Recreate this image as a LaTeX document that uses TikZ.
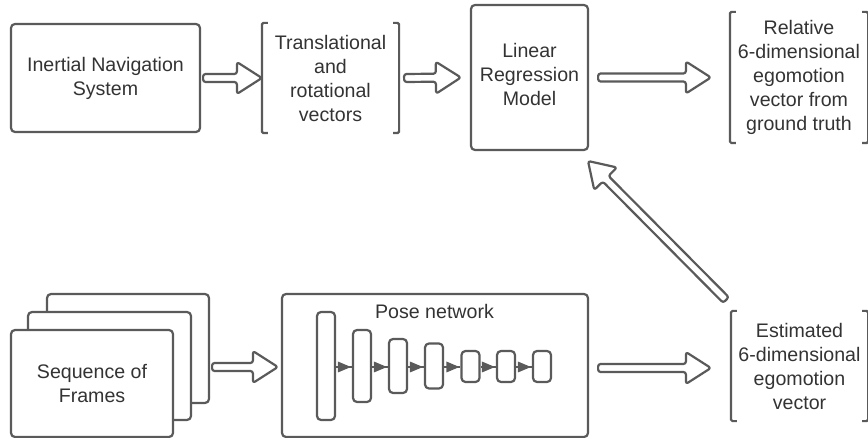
\documentclass[tikz,border=0pt]{standalone}
\usepackage{fontspec}
\setmainfont{Liberation Sans}
\usetikzlibrary{calc,arrows.meta}
\definecolor{strk}{HTML}{5A5A5A}
\definecolor{txt}{HTML}{333333}
\tikzset{
  base/.style={draw=strk, line width=2.2pt, text=txt, align=center, inner sep=0pt,
    font=\fontsize{19.6}{24}\selectfont},
  boxnode/.style={base, rounded corners=4pt},
  brnode/.style={base, draw=none},
  brline/.style={draw=strk, line width=2.2pt, rounded corners=1.5pt},
  layer/.style={draw=strk, line width=2.2pt, rounded corners=4pt, fill=white, minimum width=18pt},
  larrow/.style={draw=strk, line width=2pt},
  ltip/.style={fill=strk, draw=none},
  barrow/.style={draw=strk, line width=2.2pt, fill=white, rounded corners=2.5pt, line join=round},
}
\newcommand\blockarrow[2]{%
  \draw[barrow] let \p1=(#1), \p2=(#2), \n1={atan2(\y2-\y1,\x2-\x1)},
    \n2={veclen(\x2-\x1,\y2-\y1)-25} in
    ($(\p1)+({\n1+90}:4)$) -- ($(\p1)+({\n1+90}:4)+(\n1:\n2)$) --
    ($(\p1)+({\n1+90}:16)+(\n1:\n2)$) -- (\p2) --
    ($(\p1)+({\n1-90}:16)+(\n1:\n2)$) -- ($(\p1)+({\n1-90}:4)+(\n1:\n2)$) --
    ($(\p1)+({\n1-90}:4)$) -- cycle;}
\newcommand\brackets[1]{%
  \draw[brline] ([xshift=6pt]#1.north west) -- (#1.north west) -- (#1.south west) -- ([xshift=6pt]#1.south west);
  \draw[brline] ([xshift=-6pt]#1.north east) -- (#1.north east) -- (#1.south east) -- ([xshift=-6pt]#1.south east);}
\begin{document}
\begin{tikzpicture}[x=1pt,y=1pt]
\useasboundingbox (0,0) rectangle (868,-438);
% top row
\node[boxnode, minimum width=189pt, minimum height=108pt] (ins) at (105.5,-78) {Inertial Navigation\\System};
\node[brnode, minimum width=135pt, minimum height=108pt] (tv) at (330.5,-78) {Translational\\and\\rotational\\vectors};
\brackets{tv}
\node[boxnode, minimum width=117pt, minimum height=145pt] (lrm) at (529.5,-77.5) {};
\node[text=txt, align=center, font=\fontsize{19.6}{24}\selectfont] (lrmtext) at (529.5,-74) {Linear\\Regression\\Model};
\node[brnode, minimum width=136pt, minimum height=129pt] (rel) at (799,-77.5) {Relative\\6-dimensional\\egomotion\\vector from\\ground truth};
\brackets{rel}
% bottom row
\node[boxnode, fill=white, minimum width=162pt, minimum height=109pt] (fr3) at (128,-348.5) {};
\node[boxnode, fill=white, minimum width=163pt, minimum height=108pt] (fr2) at (109.5,-366) {};
\node[boxnode, fill=white, minimum width=162pt, minimum height=107pt] (fr1) at (92,-383.5) {Sequence of\\Frames};
\node[boxnode, minimum width=306pt, minimum height=143pt] (pose) at (435,-365.5) {};
\node[text=txt, font=\fontsize{19.6}{24}\selectfont, anchor=base] (posetitle) at (434.5,-318.5) {Pose network};
\node[layer, minimum height=108pt] (l1) at (326,-366) {};
\node[layer, minimum height=72pt] (l2) at (362,-366) {};
\node[layer, minimum height=54pt] (l3) at (398,-366) {};
\node[layer, minimum height=45pt] (l4) at (434,-366) {};
\node[layer, minimum height=31pt] (l5) at (470.5,-366.5) {};
\node[layer, minimum height=31pt] (l6) at (506,-366.5) {};
\node[layer, minimum height=31pt] (l7) at (542,-366.5) {};
\foreach \a/\b in {l1/l2,l2/l3,l3/l4,l4/l5,l5/l6,l6/l7}{
  \draw[larrow] (\a.east |- 0,-367) -- (\b.west |- 0,-367);
  \fill[ltip] ([xshift=-1pt]\b.west |- 0,-367) -- ++(-13,5.5) -- ++(0,-11) -- cycle;
}
\node[brnode, minimum width=135pt, minimum height=108pt] (est) at (799.5,-366) {Estimated\\6-dimensional\\egomotion\\vector};
\brackets{est}
% block arrows
\blockarrow{[xshift=2pt]ins.east}{tv.west}
\blockarrow{[xshift=5pt]tv.east}{[xshift=-9pt]lrm.west}
\blockarrow{[xshift=9pt]lrm.east}{[xshift=-19pt]rel.west}
\blockarrow{[xshift=2pt]fr3.east |- 0,-367}{[xshift=-3pt]pose.west |- 0,-367}
\blockarrow{[xshift=9pt]pose.east |- 0,-368}{[xshift=-20pt]est.west |- 0,-368}
\coordinate (dtail) at (726,-300);
\coordinate (dtip) at (588,-161);
\blockarrow{dtail}{dtip}
\end{tikzpicture}
\end{document}
